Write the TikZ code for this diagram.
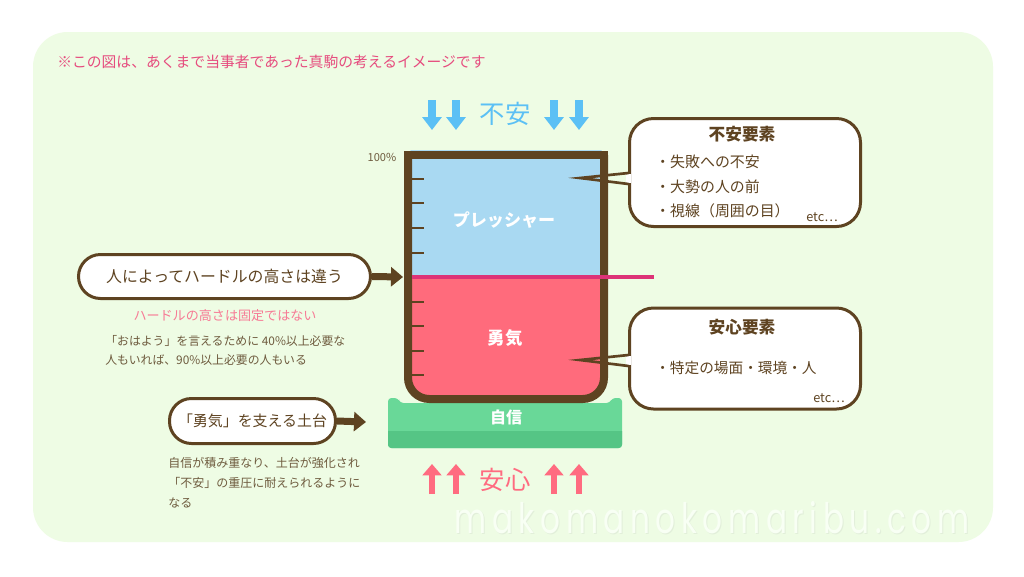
\documentclass[tikz,border=0pt]{standalone}
\usepackage{fontspec}
\newfontfamily\jp{Noto Sans CJK JP}
\newfontfamily\wmfont{Poppins}
\usetikzlibrary{arrows.meta}
\definecolor{bg}{HTML}{EEFCE4}
\definecolor{brn}{HTML}{5E4321}
\definecolor{bodytxt}{HTML}{6E5B3E}
\definecolor{blufill}{HTML}{A9D9F2}
\definecolor{redfill}{HTML}{FF6B7C}
\definecolor{pinkline}{HTML}{DD3377}
\definecolor{arrblue}{HTML}{5BC0F5}
\definecolor{arrpink}{HTML}{FF6B80}
\definecolor{notepink}{HTML}{E64C7E}
\definecolor{subpink}{HTML}{F77A95}
\definecolor{grlight}{HTML}{69D898}
\definecolor{grdark}{HTML}{55C585}
\definecolor{wmshadow}{HTML}{E2EFDA}
\definecolor{wmfill}{HTML}{F8FFF4}
\tikzset{
  fs/.style={font={\jp\fontsize{#1}{#1}\selectfont}},
  fsb/.style={font={\jp\bfseries\fontsize{#1}{#1}\selectfont}},
  lbl/.style={inner sep=0pt, text=bodytxt},
  pill/.style={draw=brn, line width=2.25pt, fill=white, rounded corners=16.5pt, inner sep=0pt, text=brn},
  bubble/.style={draw=brn, line width=2.25pt, fill=white, rounded corners=18pt, inner sep=0pt},
  fatarrow/.style={draw=brn, line width=5.25pt, -{Triangle[length=9pt,width=14.25pt]}},
  downarrow/.style={draw=arrblue, line width=6pt, -{Triangle[length=9.75pt,width=14.25pt]}},
  uparrow/.style={draw=arrpink, line width=5pt, -{Triangle[length=8.5pt,width=14pt]}},
  pointer/.style={draw=brn, line width=2pt, line join=miter},
}
\begin{document}
\begin{tikzpicture}[x=0.75pt,y=-0.75pt]
\useasboundingbox (0,0) rectangle (1024,576);
\fill[white] (0,0) rectangle (1024,576);
\fill[bg, rounded corners=26pt] (33,32) rectangle (993,542);

% note
\node[fs=11.1pt, text=notepink, inner sep=0pt, anchor=west] (note) at (57,62) {※この図は、あくまで当事者であった真駒の考えるイメージです};

% top arrows and label
\node[fs=19pt, text=arrblue, inner sep=0pt] (fuan) at (505,114) {不安};
\foreach \x/\n in {432/d1,456/d2,554/d3,579/d4}{
  \coordinate (\n s) at (\x,100); \coordinate (\n e) at (\x,130);
  \draw[downarrow] (\n s) -- (\n e);
}
% bottom arrows and label
\node[fs=19pt, text=arrpink, inner sep=0pt] (anshin) at (505,480) {安心};
\foreach \x/\n in {432/u1,456/u2,554/u3,579/u4}{
  \coordinate (\n s) at (\x,494); \coordinate (\n e) at (\x,464);
  \draw[uparrow] (\n s) -- (\n e);
}

% base
\begin{scope}
\path[clip, rounded corners=2.5pt] (388,398) -- (388,448) -- (622,448) -- (622,398) -- (612,398) -- (610,403) -- (400,403) -- (398,398) -- cycle;
\fill[grlight] (380,390) rectangle (630,450);
\fill[grdark] (380,431) rectangle (630,450);
\end{scope}
\node[fsb=12pt, text=white, inner sep=0pt] (jishin) at (506,417) {自信};

% beaker fills
\begin{scope}
\clip[rounded corners=15pt] (408,140) -- (408,399) -- (604,399) -- (604,140) -- cycle;
\fill[blufill] (400,150) rectangle (610,277);
\fill[redfill] (400,277) rectangle (610,405);
\end{scope}
\draw[brn, line width=6pt, rounded corners=16pt] (408,155) -- (408,399) -- (604,399) -- (604,155);
\draw[brn, line width=6pt, line cap=rect] (408,155) -- (604,155);
\foreach \y in {179,203,228,253,302,326,351,375}
  \draw[brn, line width=2pt] (412,\y) -- (424,\y);
\node[fs=8.3pt, lbl] (pct) at (382,157) {100\%};
\node[fsb=12.8pt, text=white, inner sep=0pt] (press) at (504,220) {プレッシャー};
\node[fsb=13pt, text=white, inner sep=0pt] (yuuki) at (505,338) {勇気};
\coordinate (lineL) at (412,277);
\coordinate (lineR) at (654,277);
\draw[pinkline, line width=2.5pt] (lineL) -- (lineR);

% callout 1
\node[bubble, minimum width=173.25pt, minimum height=81pt] (b1) at (745,172.5) {};
\fill[white] (626,173.6) rectangle (631,183.4);
\coordinate (t1) at (580,178);
\draw[pointer] (628.5,173) -- (t1) -- (628.5,184);
\node[fsb=12.5pt, text=brn, inner sep=0pt] (b1t) at (742,134) {不安要素};
\node[fs=11.2pt, text=brn, inner sep=0pt, anchor=west] (b1a) at (655,162) {・失敗への不安};
\node[fs=11.2pt, text=brn, inner sep=0pt, anchor=west] (b1b) at (655,187) {・大勢の人の前};
\node[fs=11.2pt, text=brn, inner sep=0pt, anchor=west] (b1c) at (655,211) {・視線（周囲の目）};
\node[fs=9.5pt, text=brn, inner sep=0pt] (b1e) at (822,217) {etc…};

% callout 2
\node[bubble, minimum width=173.25pt, minimum height=75.75pt] (b2) at (745,358.5) {};
\fill[white] (626,355.6) rectangle (631,365.4);
\coordinate (t2) at (580,360);
\draw[pointer] (628.5,355) -- (t2) -- (628.5,366);
\node[fsb=12.5pt, text=brn, inner sep=0pt] (b2t) at (742,327) {安心要素};
\node[fs=11pt, text=brn, inner sep=0pt, anchor=west] (b2a) at (655,368) {・特定の場面・環境・人};
\node[fs=9.5pt, text=brn, inner sep=0pt] (b2e) at (829,398) {etc…};

% pill 1
\node[pill, fs=11.9pt, minimum width=219pt, minimum height=33pt] (p1) at (224.5,276.5) {人によってハードルの高さは違う};
\coordinate (p1end) at (403,277);
\draw[fatarrow] (p1.east) -- (p1end);
\node[fs=9.8pt, text=subpink, inner sep=0pt] (sub1) at (225,316) {ハードルの高さは固定ではない};
\node[fs=8.9pt, lbl, anchor=west] (l1) at (105,341) {「おはよう」を言えるために 40\%以上必要な};
\node[fs=8.9pt, lbl, anchor=west] (l2) at (105,360) {人もいれば、90\%以上必要の人もいる};

% pill 2
\node[pill, fs=11.2pt, minimum width=124.5pt, minimum height=33.75pt] (p2) at (252.5,421) {「勇気」を支える土台};
\coordinate (p2end) at (366,422);
\draw[fatarrow] (p2.east) -- (p2end);
\node[fs=9pt, lbl, anchor=west] (m1) at (168,463) {自信が積み重なり、土台が強化され};
\node[fs=9pt, lbl, anchor=west] (m2) at (168,483) {「不安」の重圧に耐えられるように};
\node[fs=9pt, lbl, anchor=west] (m3) at (168,503) {なる};

% watermark
\node[inner sep=0pt, text=wmshadow] (wms) at (713,519) {\resizebox{386pt}{24pt}{\wmfont\addfontfeature{LetterSpace=18}makomanokomaribu.com}};
\node[inner sep=0pt, text=wmfill] (wm) at (712,518) {\resizebox{386pt}{24pt}{\wmfont\addfontfeature{LetterSpace=18}makomanokomaribu.com}};
\end{tikzpicture}
\end{document}
